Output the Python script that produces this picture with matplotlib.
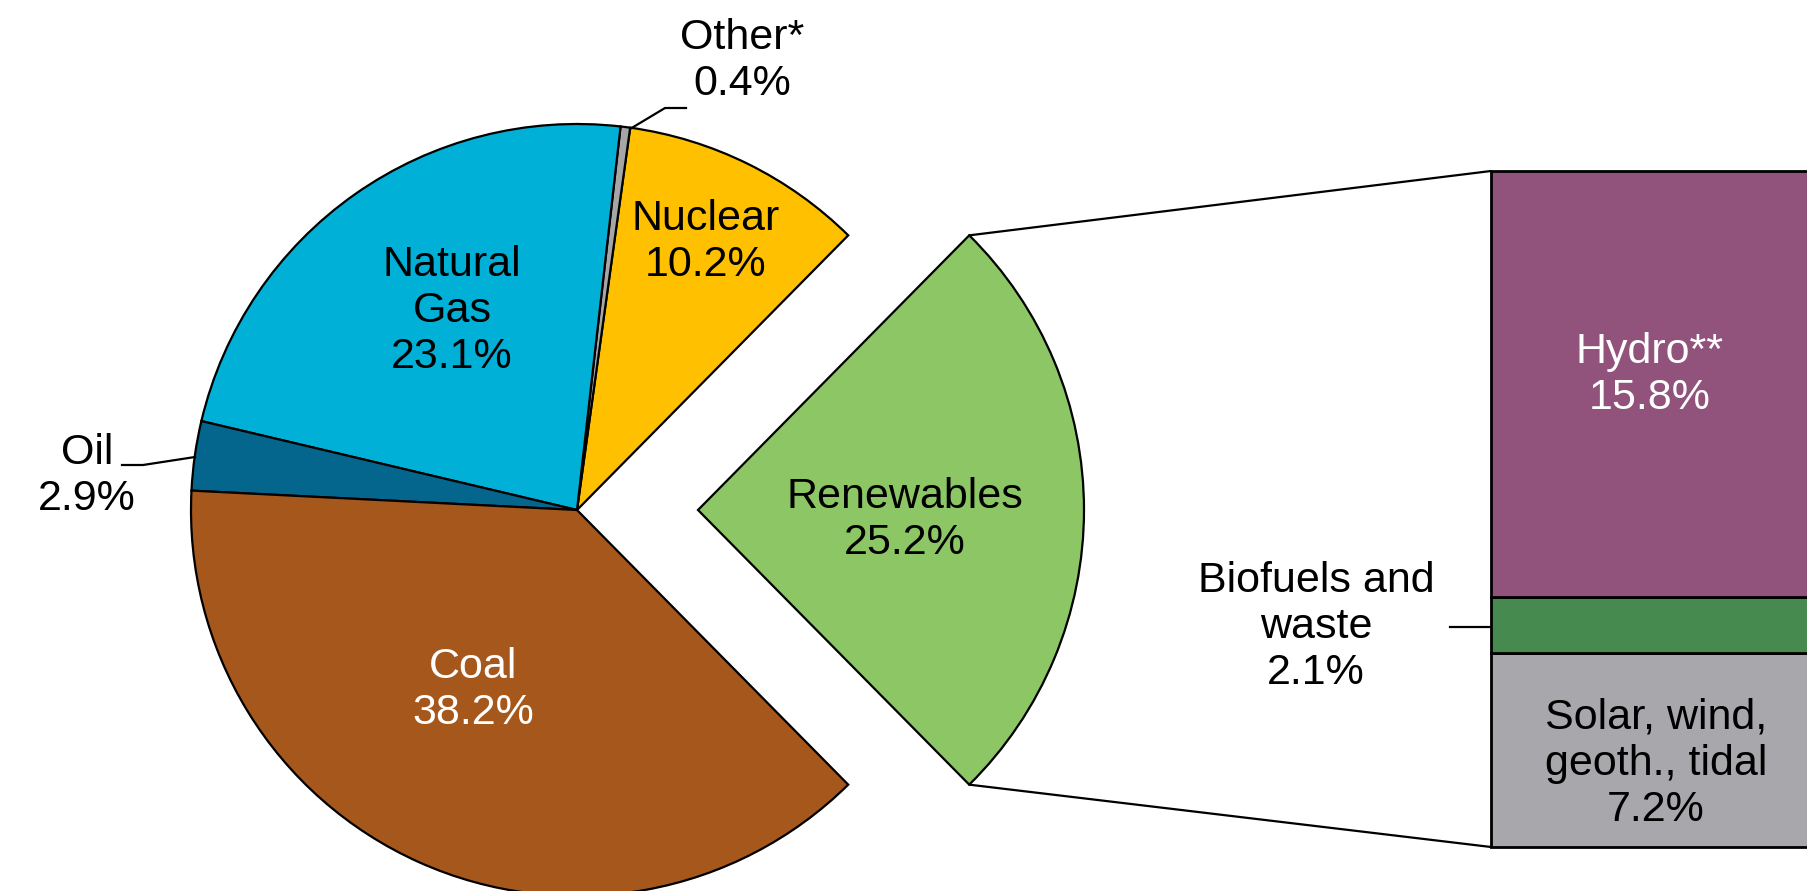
import matplotlib
matplotlib.use("Agg")
import matplotlib.pyplot as plt
import numpy as np
from matplotlib.patches import ConnectionPatch

plt.rcParams['font.family'] = ['Liberation Sans', 'DejaVu Sans']

# main pie, counter-clockwise starting at the renewables slice
pie_labels = ["Renewables", "Nuclear", "Other*", "Natural\nGas", "Oil", "Coal"]
pie_values = [25.2, 10.2, 0.4, 23.1, 2.9, 38.2]
pie_colors = ["#8CC665", "#FFC000", "#A6A6A6", "#00B0D6", "#05668D", "#A6571C"]

# renewables breakdown, bottom to top
bar_labels = ["Solar, wind,\ngeoth., tidal", "Biofuels and\nwaste", "Hydro**"]
bar_values = [7.2, 2.1, 15.8]
bar_colors = ["#A7A7AC", "#478A50", "#91527C"]

W, H = 1808, 891
fig = plt.figure(figsize=(W / 100, H / 100), dpi=100)
ax = fig.add_axes([0, 0, 1, 1])

cx, cy, r = 577, H - 510, 386
explode = [121, 0, 0, 0, 0, 0]   # pie explode is in data units
wedges, _ = ax.pie(pie_values, colors=pie_colors, startangle=-pie_values[0] * 3.6 / 2,
                   counterclock=True, explode=explode, center=(cx, cy), radius=r,
                   wedgeprops=dict(edgecolor="black", linewidth=1.6))
ax.set_xlim(0, W)
ax.set_ylim(0, H)
ax.set_aspect("equal")
ax.axis("off")

fs = 31
def pct(v):
    return f"{v:.1f}%"

# labels inside / next to the pie
ax.text(905, H - 520, f"{pie_labels[0]}\n{pct(pie_values[0])}", ha="center", va="center", fontsize=fs)
ax.text(706, H - 242, f"{pie_labels[1]}\n{pct(pie_values[1])}", ha="center", va="center", fontsize=fs)
ax.text(742, H - 61, f"{pie_labels[2]}\n{pct(pie_values[2])}", ha="center", va="center", fontsize=fs)
ax.text(452, H - 311, f"{pie_labels[3]}\n{pct(pie_values[3])}", ha="center", va="center", fontsize=fs)
ax.text(87, H - 476, f"{pie_labels[4]}\n{pct(pie_values[4])}", ha="center", va="center", fontsize=fs)
ax.text(473, H - 690, f"{pie_labels[5]}\n{pct(pie_values[5])}", ha="center", va="center",
        fontsize=fs, color="white")

# leader lines
ax.plot([630, 665, 686], [H - 129, H - 108, H - 108], color="black", lw=1.6)
ax.plot([122, 143, 195], [H - 465, H - 465, H - 457], color="black", lw=1.6)

# stacked bar for renewables
bx = fig.add_axes([1491 / W, 44 / H, 317 / W, 676 / H])
bottom = 0
for v, c in zip(bar_values, bar_colors):
    bx.bar(0, v, width=3, bottom=bottom, color=c, edgecolor="black", linewidth=2,
           align="edge", clip_on=False)
    bottom += v
bx.set_xlim(0, 1)
bx.set_ylim(0, sum(bar_values))
bx.axis("off")

bx.text(0.5, bar_values[0] + bar_values[1] + bar_values[2] * 0.52,
        f"{bar_labels[2]}\n{pct(bar_values[2])}", ha="center", va="center",
        fontsize=fs, color="white")
bx.text(0.52, bar_values[0] / 2 - 0.5, f"{bar_labels[0]}\n{pct(bar_values[0])}",
        ha="center", va="center", fontsize=fs)
ax.text(1316, H - 627, f"{bar_labels[1]}\n{pct(bar_values[1])}", ha="center", va="center", fontsize=fs)
ax.plot([1450, 1491], [H - 627, H - 627], color="black", lw=1.6)

# connector lines from exploded wedge to bar
w = wedges[0]
for ang, ytop in [(w.theta2, sum(bar_values)), (w.theta1, 0)]:
    px = w.center[0] + w.r * np.cos(np.radians(ang))
    py = w.center[1] + w.r * np.sin(np.radians(ang))
    con = ConnectionPatch(xyA=(px, py), coordsA=ax.transData,
                          xyB=(0, ytop), coordsB=bx.transData,
                          color="black", lw=1.6)
    fig.add_artist(con)

fig.savefig("out.png", dpi=100)
